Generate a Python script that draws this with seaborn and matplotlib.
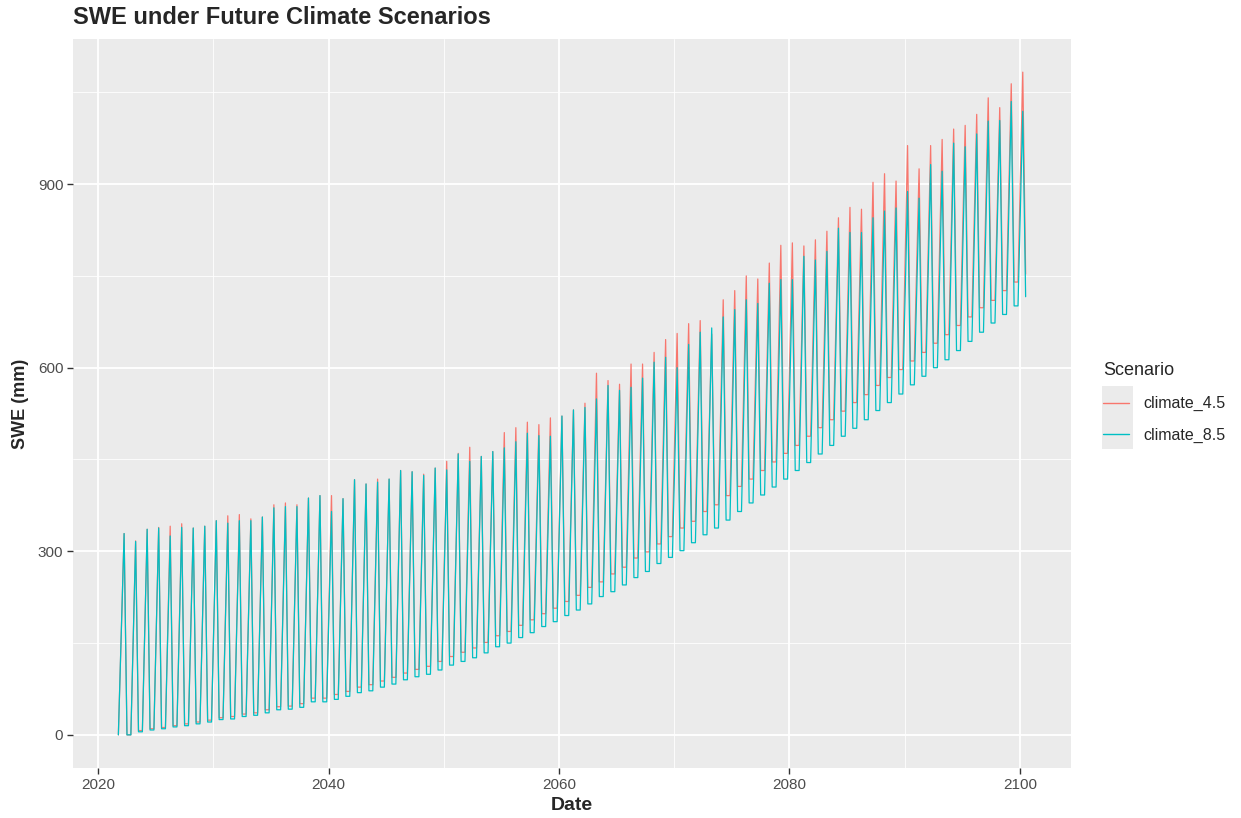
import matplotlib
matplotlib.use("Agg")
import matplotlib.pyplot as plt
import matplotlib.dates as mdates
from matplotlib.lines import Line2D
from matplotlib.patches import Rectangle
from matplotlib.ticker import FixedLocator
import pandas as pd
import seaborn as sns

# Water years covered by the projection
years = list(range(2022, 2101))

# Annual maximum snow water equivalent (mm), one value per water year
peak_45 = [329, 317, 336, 339, 341, 345, 338, 341, 350, 358,
           360, 353, 356, 376, 379, 376, 387, 391, 391, 386,
           417, 410, 418, 418, 432, 430, 426, 436, 447, 460,
           470, 455, 463, 494, 502, 511, 507, 518, 521, 531,
           542, 591, 579, 573, 606, 606, 625, 646, 656, 672,
           677, 655, 711, 726, 750, 745, 771, 800, 804, 799,
           809, 823, 845, 862, 859, 903, 917, 905, 963, 925,
           963, 973, 990, 996, 1014, 1041, 1025, 1064, 1083]
peak_85 = [329, 316, 336, 338, 325, 339, 338, 341, 350, 346,
           350, 350, 356, 371, 373, 373, 387, 391, 365, 386,
           417, 410, 413, 418, 432, 430, 424, 436, 433, 459,
           447, 455, 463, 469, 479, 493, 489, 488, 521, 531,
           535, 549, 571, 563, 568, 583, 609, 617, 600, 638,
           658, 665, 683, 695, 711, 705, 738, 744, 744, 782,
           776, 790, 828, 821, 821, 845, 856, 861, 888, 877,
           932, 921, 967, 961, 982, 1003, 1004, 1035, 1019]

# Late-summer minimum SWE (mm) left after the melt season of each year
trough_45 = [0, 7, 10, 12, 15, 18, 21, 24, 28, 30,
             34, 36, 41, 46, 47, 51, 60, 60, 66, 71,
             78, 82, 88, 94, 101, 107, 112, 120, 128, 135,
             142, 151, 162, 169, 179, 188, 198, 207, 218, 228,
             241, 250, 263, 274, 289, 299, 312, 324, 338, 349,
             365, 376, 391, 406, 418, 432, 446, 460, 473, 488,
             502, 515, 529, 543, 556, 571, 584, 597, 611, 625,
             640, 654, 669, 683, 698, 710, 726, 740, 753]
trough_85 = [0, 5, 8, 10, 13, 15, 18, 21, 25, 26,
             30, 32, 36, 41, 42, 45, 54, 54, 58, 63,
             69, 72, 78, 83, 90, 95, 99, 106, 114, 120,
             126, 134, 144, 150, 159, 167, 177, 185, 195, 204,
             214, 226, 234, 245, 257, 267, 280, 290, 301, 314,
             327, 338, 351, 365, 379, 392, 405, 418, 432, 445,
             459, 473, 488, 501, 515, 530, 543, 557, 572, 586,
             600, 613, 628, 643, 658, 673, 687, 701, 716]

# SWE at the start of the record (1 Oct 2021)
start_swe = [0, 0]

scenarios = ["climate_4.5", "climate_8.5"]
colors = ["#F8766D", "#00BFC4"]

x_ticks = [2020, 2040, 2060, 2080, 2100]
x_minor = [2030, 2050, 2070, 2090]
y_ticks = [0, 300, 600, 900]
y_minor = [150, 450, 750, 1050]


def seasonal_series(start, peaks, troughs):
    """Accumulate to the spring maximum, melt to the summer minimum,
    hold the minimum until the next accumulation season."""
    dates = [pd.Timestamp("2021-10-01")]
    values = [start]
    for yr, pk, tr in zip(years, peaks, troughs):
        dates += [pd.Timestamp(f"{yr}-04-01"), pd.Timestamp(f"{yr}-07-01")]
        values += [pk, tr]
        if yr < years[-1]:
            dates.append(pd.Timestamp(f"{yr}-11-01"))
            values.append(tr)
    return dates, values


frames = []
for name, s0, pk, tr in zip(scenarios, start_swe, (peak_45, peak_85), (trough_45, trough_85)):
    d, v = seasonal_series(s0, pk, tr)
    frames.append(pd.DataFrame({"Date": d, "SWE": v, "Scenario": name}))
df = pd.concat(frames, ignore_index=True)

sns.set_theme(style="darkgrid")
plt.rcParams["font.family"] = ["Liberation Sans", "DejaVu Sans"]

fig = plt.figure(figsize=(12.41, 8.18), dpi=100)
ax = fig.add_axes([73 / 1241, 1 - 768 / 818, (1071 - 73) / 1241, (768 - 39) / 818])
ax.set_facecolor("#EBEBEB")
fig.patch.set_facecolor("white")

sns.lineplot(data=df, x="Date", y="SWE", hue="Scenario",
             palette=dict(zip(scenarios, colors)), estimator=None,
             errorbar=None, sort=False, linewidth=0.9, legend=False, ax=ax)

ax.margins(x=0.05, y=0.05)

ax.xaxis.set_major_locator(FixedLocator([mdates.date2num(pd.Timestamp(f"{y}-01-01")) for y in x_ticks]))
ax.xaxis.set_minor_locator(FixedLocator([mdates.date2num(pd.Timestamp(f"{y}-01-01")) for y in x_minor]))
ax.xaxis.set_major_formatter(mdates.DateFormatter("%Y"))
ax.yaxis.set_major_locator(FixedLocator(y_ticks))
ax.yaxis.set_minor_locator(FixedLocator(y_minor))

ax.grid(which="major", color="white", linewidth=1.3)
ax.grid(which="minor", color="white", linewidth=0.6)
ax.set_axisbelow(True)
for sp in ax.spines.values():
    sp.set_visible(False)

ax.tick_params(axis="both", which="major", length=4, width=1.0, color="#333333",
               labelsize=11, labelcolor="#4D4D4D", pad=3, bottom=True, left=True)
ax.tick_params(axis="both", which="minor", length=0)

ax.set_xlabel("Date", fontsize=14, fontweight="bold", labelpad=4)
ax.set_ylabel("SWE (mm)", fontsize=13, fontweight="bold", labelpad=6)

fig.text(73 / 1241, 1 - 18 / 818, "SWE under Future Climate Scenarios",
         fontsize=17, fontweight="bold", ha="left", va="center")

# Legend with grey key background
fig.patches.append(Rectangle((1101.5 / 1241, 1 - 449 / 818), 31 / 1241, 63 / 818,
                             transform=fig.transFigure, facecolor="#EBEBEB",
                             edgecolor="none", zorder=0))
handles = [Line2D([], [], color=c, linewidth=1.0) for c in colors]
leg = fig.legend(handles, scenarios, title="Scenario", loc="upper left",
                 bbox_to_anchor=(1097 / 1241, 1 - 356 / 818), frameon=False,
                 fontsize=11.5, title_fontsize=13, handlelength=1.6,
                 handletextpad=0.9, labelspacing=1.05, borderaxespad=0)
leg._legend_box.align = "left"

fig.savefig("out.png", dpi=100)
